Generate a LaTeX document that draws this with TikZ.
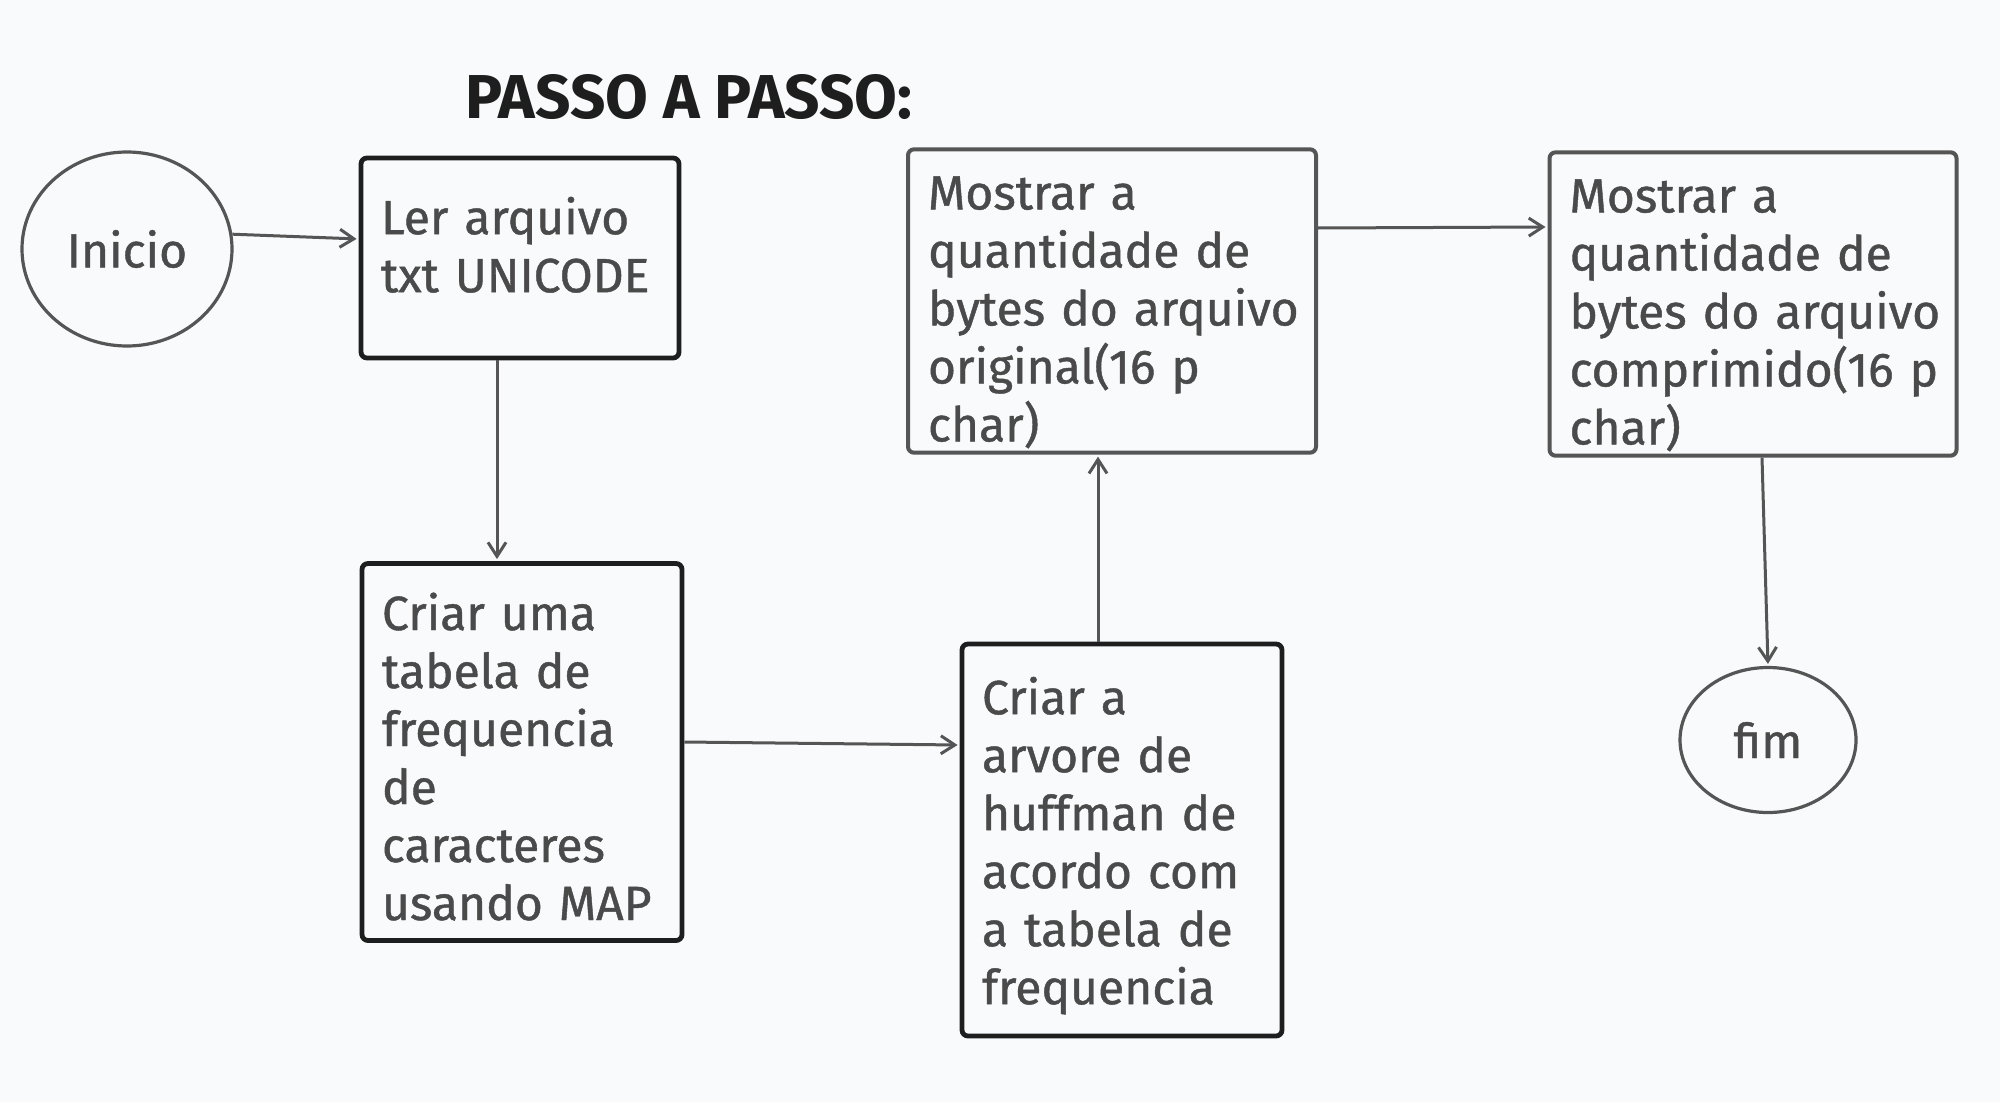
\documentclass[tikz,border=0pt]{standalone}
\usepackage{fontspec}
\setmainfont{Fira Sans}[UprightFeatures={FakeBold=0.9}]
\usepackage{xcolor}
\usetikzlibrary{calc,arrows.meta,shapes.geometric}

\definecolor{grund}{RGB}{249,250,251}
\definecolor{strich}{RGB}{85,85,85}
\definecolor{dunkel}{RGB}{30,30,30}
\definecolor{schrift}{RGB}{74,74,74}

% zeilen, um #1 nach unten versetzt
\newcommand{\zeilen}[2][0pt]{\raisebox{-#1}[\height][\depth]{\begin{tabular}{@{}l@{}}#2\end{tabular}}}

\tikzset{
	schritt/.style={draw=dunkel, line width=2.4pt, rounded corners=3pt, align=left, text=schrift, font=\fontsize{24}{29}\selectfont, inner xsep=10pt},
	anzeige/.style={schritt, draw=strich, line width=2pt},
	grenze/.style={ellipse, draw=strich, line width=1.6pt, text=schrift, font=\fontsize{24}{29}\selectfont},
	pfeil/.style={-{Straight Barb[length=7pt,width=9pt]}, draw=strich, line width=1.5pt, shorten >=1pt}
}

\begin{document}
\begin{tikzpicture}[x=0.5pt,y=-0.5pt]
		\useasboundingbox[fill=grund] (0,0) rectangle (2000,1102);
		\coordinate (m0) at (127,249);
		\coordinate (m1) at (520,258);
		\coordinate (m2) at (522,752);
		\coordinate (m3) at (1122,840);
		\coordinate (m4) at (1112,301);
		\coordinate (m5) at (1753,304);
		\coordinate (m6) at (1768,740);
		
		%titel
		\node[text=dunkel, font=\fontsize{31}{36}\selectfont\bfseries] (titel) at (689,97) {PASSO A PASSO:};
		
		%anfang und ende
		\node[grenze, minimum width=105pt, minimum height=97pt] (inicio) at (m0) {Inicio};
		\node[grenze, minimum width=88pt, minimum height=72.5pt] (fim) at (m6) {fim};
		
		%schritte
		\node[schritt, text width=139pt, minimum height=100pt] (ler) at (m1) {\zeilen[-3.2pt]{Ler arquivo\\txt UNICODE}};
		\node[schritt, text width=140pt, minimum height=188.5pt] (tabela) at (m2) {\zeilen[5.7pt]{Criar uma\\tabela de\\frequencia\\de\\caracteres\\usando MAP}};
		\node[schritt, text width=140pt, minimum height=196pt] (arvore) at (m3) {\zeilen[3.8pt]{Criar a\\arvore de\\huffman de\\acordo com\\a tabela de\\frequencia}};
		\node[anzeige, text width=184pt, minimum height=150.5pt] (original) at (m4) {\zeilen[6.4pt]{Mostrar a\\quantidade de\\bytes do arquivo\\original(16 p\\char)}};
		\node[anzeige, text width=183.5pt, minimum height=150pt] (comprimido) at (m5) {\zeilen[6.4pt]{Mostrar a\\quantidade de\\bytes do arquivo\\comprimido(16 p\\char)}};
		
		%pfeile
		\draw[pfeil] (inicio.8) -- ([yshift=9.5pt]ler.west);
		\draw[pfeil] ([xshift=-11.5pt]ler.south) -- ([xshift=-12.5pt]tabela.north);
		\draw[pfeil] ([yshift=5pt]tabela.east) -- ([yshift=47.5pt]arvore.west);
		\draw[pfeil] ([xshift=-12pt]arvore.north) -- ([xshift=-7pt]original.south);
		\draw[pfeil] ([yshift=36.5pt]original.east) -- ([yshift=38.5pt]comprimido.west);
		\draw[pfeil] ([xshift=4.5pt]comprimido.south) -- (fim.north);
		
\end{tikzpicture}
\end{document}
